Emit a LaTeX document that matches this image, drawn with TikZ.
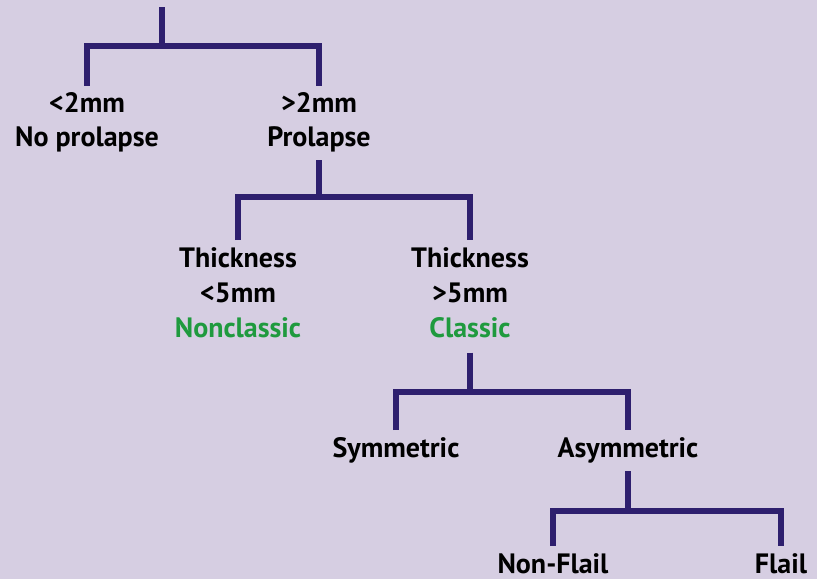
\documentclass[tikz,border=0pt]{standalone}
\usepackage{fontspec}
\setmainfont{PT Sans}
\definecolor{bg}{HTML}{D6CEE2}
\definecolor{ln}{HTML}{2E1F6E}
\definecolor{gr}{HTML}{1F9A3E}
\tikzset{
  lbl/.style={font=\bfseries\fontsize{28}{34}\selectfont, align=center, inner sep=0pt, anchor=north, text=black},
  conn/.style={draw=ln, line width=6pt, line join=miter},
}
\begin{document}
\begin{tikzpicture}[x=1pt,y=-1pt]
\fill[bg] (0,0) rectangle (817,579);
\useasboundingbox (0,0) rectangle (817,579);

\coordinate (root) at (162,7);
\node[lbl] (n1) at (87,92.5) {<2mm\\No prolapse};
\node[lbl] (p1) at (319,92.5) {>2mm\\Prolapse};
\node[lbl] (t1) at (238,247) {Thickness\\[1pt]<5mm\\[1pt]\textcolor{gr}{Nonclassic}};
\node[lbl] (t2) at (470,247) {Thickness\\[1pt]>5mm\\[1pt]\textcolor{gr}{Classic}};
\node[lbl] (s1) at (396,437) {Symmetric};
\node[lbl] (s2) at (628,437) {Asymmetric};
\node[lbl] (f1) at (553,553) {Non-Flail};
\node[lbl] (f2) at (781,553) {Flail};

\draw[conn] (root) -- ++(0,39) coordinate (j1);
\draw[conn] ([yshift=7pt]n1.north) |- (j1) -| ([yshift=7pt]p1.north);

\draw[conn] ([yshift=-8pt]p1.south) -- ++(0,37) coordinate (j2);
\draw[conn] ([yshift=7pt]t1.north) |- (j2) -| ([yshift=7pt]t2.north);

\draw[conn] ([yshift=-15pt]t2.south) -- ++(0,39) coordinate (j3);
\draw[conn] ([yshift=7pt]s1.north) |- (j3) -| ([yshift=7pt]s2.north);

\draw[conn] ([yshift=-8pt]s2.south) -- ++(0,40) coordinate (j4);
\draw[conn] ([yshift=7pt]f1.north) |- (j4) -| ([yshift=7pt]f2.north);
\end{tikzpicture}
\end{document}
